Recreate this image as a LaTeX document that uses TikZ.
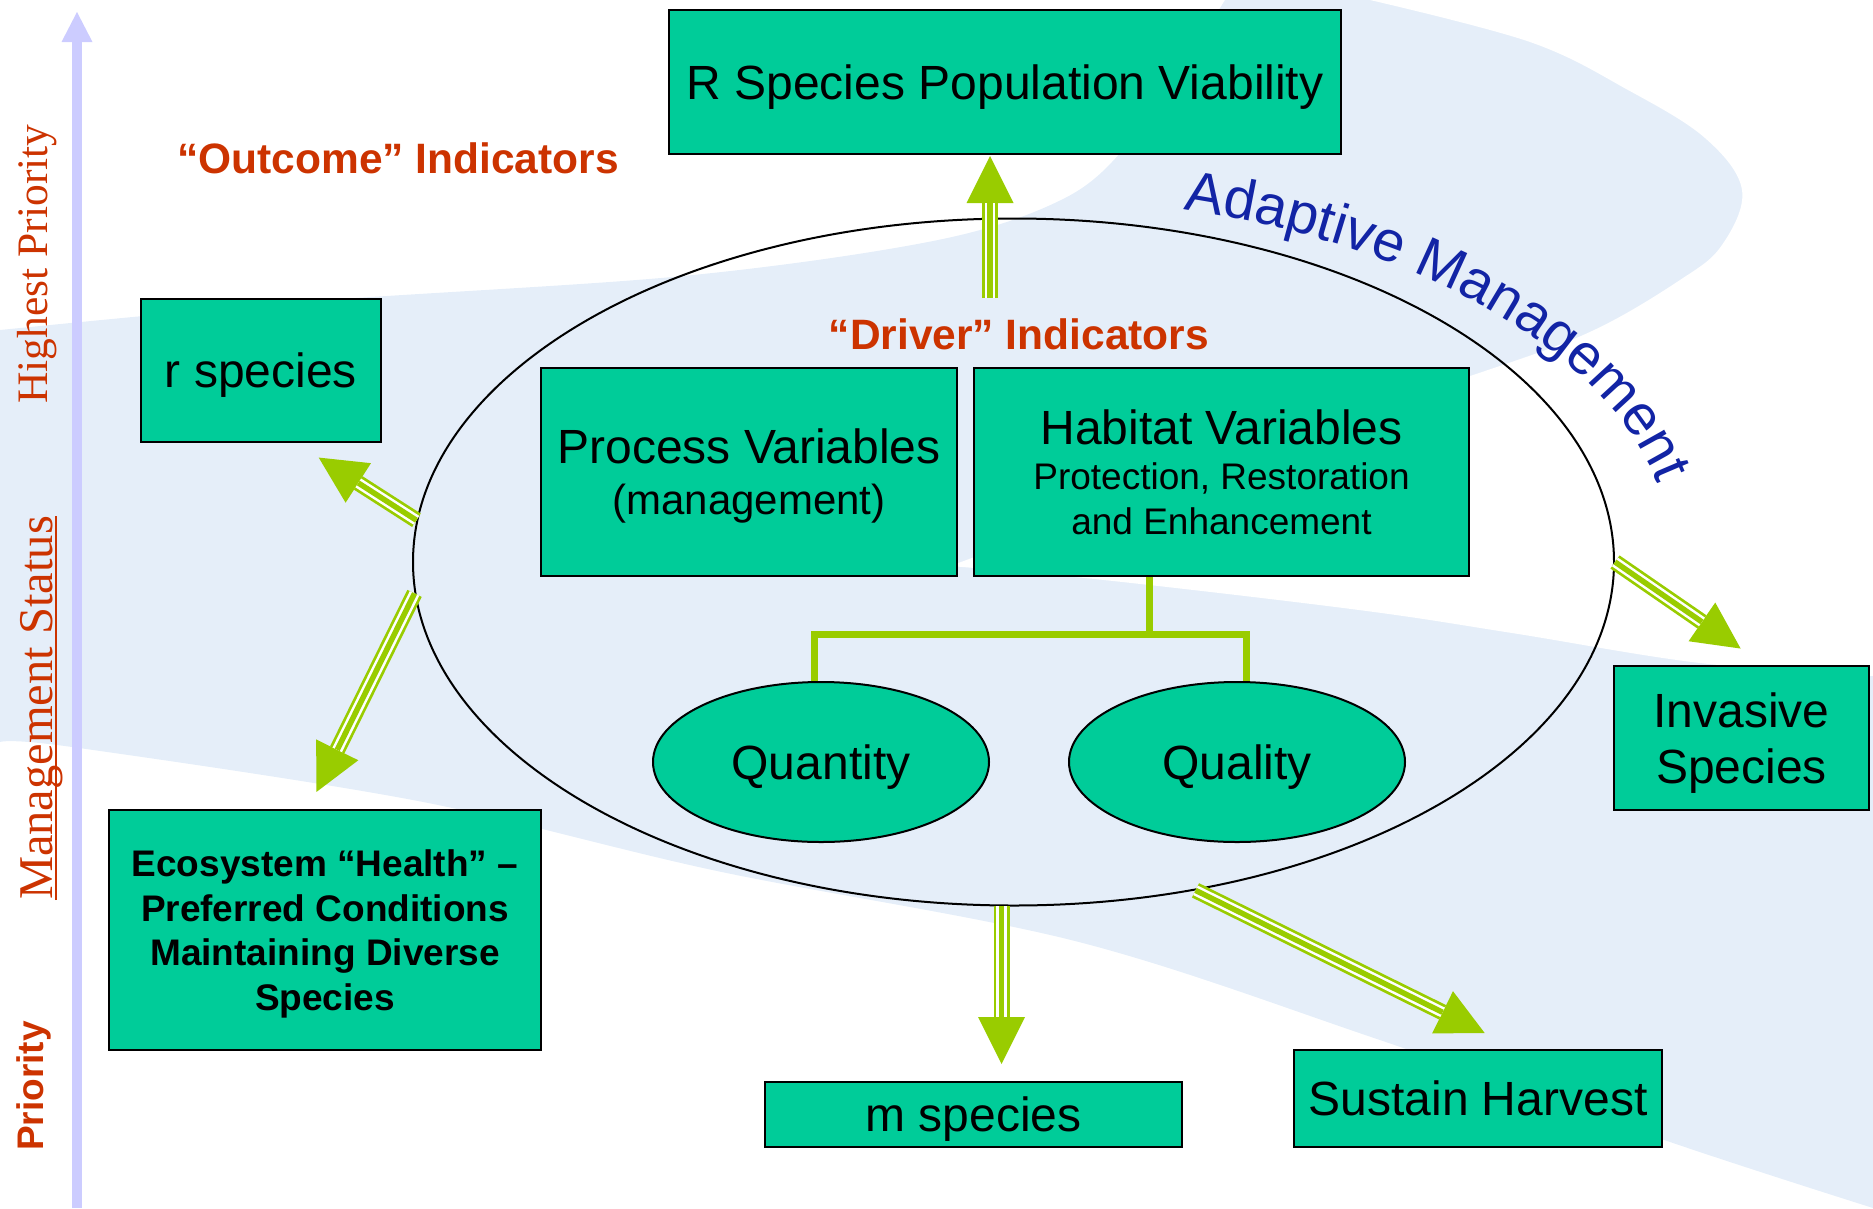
\documentclass[tikz,border=0pt]{standalone}
\usepackage{fontspec}
\setmainfont{Liberation Sans}
\newfontfamily\labelserif{Liberation Serif}
\usetikzlibrary{shapes.geometric,arrows.meta,decorations.text}
\definecolor{boxgreen}{RGB}{0,204,153}
\definecolor{arrowgreen}{RGB}{153,204,0}
\definecolor{headred}{RGB}{204,51,0}
\definecolor{axisblue}{RGB}{204,204,255}
\definecolor{swoosh}{RGB}{229,238,249}
\definecolor{amblue}{RGB}{18,36,165}
\newcommand{\amfont}{\fontsize{14.25}{15}\selectfont}

\begin{document}
\begin{tikzpicture}[x=1pt, y=-1pt,
  box/.style={draw=black, line width=2pt, fill=boxgreen, inner sep=0pt, align=center, text depth=0pt, font=\fontsize{48}{56}\selectfont},
  blob/.style={ellipse, draw=black, line width=2pt, fill=boxgreen, inner sep=0pt, text depth=0pt, font=\fontsize{48}{56}\selectfont},
  heading/.style={anchor=base, inner sep=0pt, text=headred, font=\bfseries\fontsize{42.5}{48}\selectfont},
  status/.style={rotate=90, anchor=base, inner sep=0pt, text=headred},
  link/.style={draw=arrowgreen, line width=7pt},
  bigarrow/.style={draw=arrowgreen, line width=16pt, -{Triangle[width=47pt,length=47pt,line width=0pt]}, shorten >=#1,
    postaction={draw=white, line width=10.5pt, arrows=-, shorten >=#1+47pt},
    postaction={draw=arrowgreen, line width=5.5pt, arrows=-, shorten >=#1+47pt}},
  bigarrow/.default=0pt]
  \useasboundingbox (0,0) rectangle (1873,1208);
  \fill[swoosh]
    (0,330)
    --
    plot[smooth, tension=0.55] coordinates {(0,330) (300,302) (683,276) (938,240) (1065,198) (1129,143) (1190,55) (1225,0)}
    --
    (1873,0)
    --
    (1873,1208)
    --
    plot[smooth, tension=0.55] coordinates {(1873,1208) (1673,1143) (1374,1038) (1075,941) (717,871) (418,801) (72,747) (0,742)}
    --
    cycle;
  \fill[white]
    (1370,0)
    --
    plot[smooth, tension=0.6] coordinates {(1370,0) (1530,42) (1628,90) (1705,138) (1742,190) (1722,245) (1680,280) (1592,331) (1482,372) (1300,430) (1100,510) (950,566)}
    --
    plot[smooth, tension=0.6] coordinates {(950,566) (1104,580) (1359,610) (1512,633) (1700,663) (1873,676)}
    --
    (1873,0)
    --
    cycle;

  \coordinate (axisfoot) at (77,1208);
  \coordinate (axistip) at (77,12);
  \draw[draw=axisblue, line width=10pt, -{Triangle[width=31pt,length=30pt,line width=0pt]}]
    (axisfoot)
    --
    (axistip);

  \node[status, font=\labelserif\fontsize{43.5}{50}\selectfont] (hiprio) at (47,264) {Highest Priority};
  \node[status, font=\labelserif\fontsize{48.5}{56}\selectfont] (mstatus) at (52,708) {Management Status};
  \draw[headred, line width=2pt]
    ([xshift=4pt]mstatus.base west)
    --
    ([xshift=4pt]mstatus.base east);
  \node[status, font=\bfseries\fontsize{37}{44}\selectfont] (prio) at (43,1086) {Priority};

  \node[heading] (outcome) at (398,173) {“Outcome” Indicators};
  \node[heading] (driver) at (1019,349) {“Driver” Indicators};

  \node[ellipse, draw=black, line width=2pt, minimum width=1201pt, minimum height=687pt, inner sep=0pt] (amloop) at (1013.5,562) {};
  \begin{scope}[transform canvas={scale=4}]
    \path[decorate, decoration={text along path, text={|\amfont|Adaptive Management}, text color=amblue}]
      plot[smooth] coordinates {(295.95,52.35) (309.68,54.75) (322.98,57.8) (335.75,61.48) (347.9,65.75) (359.3,70.6) (369.93,75.98) (379.65,81.85) (388.43,88.15) (396.15,94.88) (402.8,101.93) (408.3,109.3) (412.63,116.88) (415.75,124.65) (417.63,132.55)};
  \end{scope}

  \node[box, minimum width=672pt, minimum height=144pt] (rspv) at (1005,82) {R Species Population Viability};
  \node[box, minimum width=240pt, minimum height=143pt] (rsp) at (261,370.5) {r species};
  \node[box, minimum width=416pt, minimum height=208pt, font=\fontsize{42}{51}\selectfont] (process) at (749,472) {{\fontsize{48}{51}\selectfont Process Variables}\\(management)};
  \node[box, minimum width=495pt, minimum height=208pt, font=\fontsize{37}{45}\selectfont] (habitat) at (1221.5,472) {{\fontsize{48}{45}\selectfont Habitat Variables}\\Protection, Restoration\\and Enhancement};
  \node[box, minimum width=255pt, minimum height=144pt] (invasive) at (1741.5,738) {Invasive\\Species};
  \node[box, minimum width=432pt, minimum height=240pt, font=\bfseries\fontsize{37}{44.5}\selectfont] (eco) at (325,930) {Ecosystem “Health” –\\Preferred Conditions\\Maintaining Diverse\\Species};
  \node[box, minimum width=417pt, minimum height=65pt] (msp) at (973.5,1114.5) {m species};
  \node[box, minimum width=368pt, minimum height=97pt] (harvest) at (1478,1098.5) {Sustain Harvest};
  \node[blob, minimum width=336pt, minimum height=160pt] (quantity) at (821,762) {Quantity};
  \node[blob, minimum width=336pt, minimum height=160pt] (quality) at (1237,762) {Quality};

  \draw[link]
    ([xshift=-72pt]habitat.south)
    --
    ++(0,57)
    -|
    ([xshift=-7pt]quantity.north);
  \draw[link]
    ([xshift=-72pt]habitat.south)
    --
    ++(0,57)
    -|
    ([xshift=9pt]quality.north);

  \coordinate (rtail) at (990,298);
  \draw[bigarrow=1pt]
    (rtail)
    --
    (rtail |- rspv.south);
  \draw[bigarrow=27pt]
    (amloop.176.7)
    --
    ([xshift=35pt]rsp.south);
  \draw[bigarrow=19pt]
    (amloop.183.9)
    --
    ([xshift=-17pt]eco.north);
  \draw[bigarrow=29pt]
    (amloop.0.7)
    --
    ([xshift=23pt]invasive.north);
  \draw[bigarrow=17pt]
    (amloop.268.6)
    --
    (amloop.268.6 |- msp.north);
  \draw[bigarrow=36pt]
    (amloop.299.6)
    --
    ([xshift=39pt]harvest.north);
\end{tikzpicture}
\end{document}
